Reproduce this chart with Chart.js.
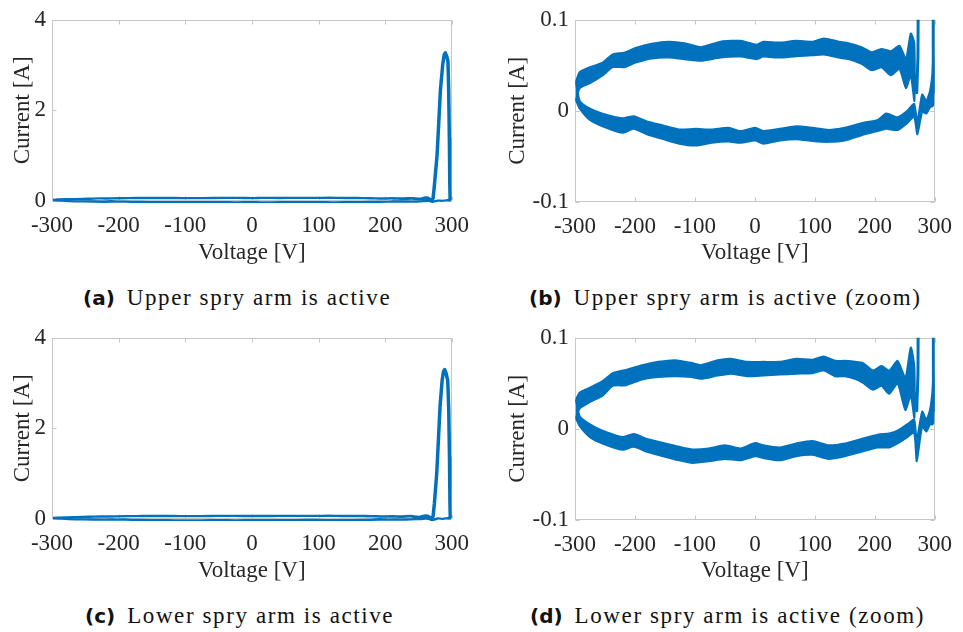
<!DOCTYPE html>
<html>
<head>
<meta charset="utf-8">
<script src="https://cdn.jsdelivr.net/npm/chart.js@4.4.1/dist/chart.umd.min.js"></script>
<style>
  body { margin: 0; background: #fff; }
  #wrap { position: relative; width: 963px; height: 632px; overflow: hidden; }
  canvas { position: absolute; }
  .cap { position: absolute; font-family: "Liberation Serif", serif; font-size: 23px; line-height: 23px;
         letter-spacing: 1.6px; color: #111; white-space: nowrap; }
  .cap b { font-family: "DejaVu Sans", sans-serif; font-size: 20px; letter-spacing: 0; margin-right: 12px; }
</style>
</head>
<body>
<div id="wrap">
  <canvas id="cA" width="480" height="275" style="left:0;top:0"></canvas>
  <canvas id="cB" width="468" height="275" style="left:495px;top:0"></canvas>
  <canvas id="cC" width="480" height="275" style="left:0;top:318px"></canvas>
  <canvas id="cD" width="468" height="275" style="left:495px;top:318px"></canvas>
  <div class="cap" style="left:83px;top:286px"><b>(a)</b>Upper spry arm is active</div>
  <div class="cap" style="left:529px;top:286px"><b>(b)</b>Upper spry arm is active (zoom)</div>
  <div class="cap" style="left:85px;top:604px"><b>(c)</b>Lower spry arm is active</div>
  <div class="cap" style="left:530px;top:604px"><b>(d)</b>Lower spry arm is active (zoom)</div>
</div>
<script>
const BLUE = "#0072BD";

// axis ticks
const xTicks = [-300, -200, -100, 0, 100, 200, 300];
const yTicksFull = [0, 2, 4];
const yTicksZoom = [-0.1, 0, 0.1];

// upper spray arm: rising-voltage branch (band top / bottom over all cycles)
const upFwdV  = [-298.5, -292, -275, -254, -237, -218, -199, -172, -144, -117, -90, -57, -24, 3, 14, 41, 69, 96, 115, 140, 156, 178, 195, 211, 227, 241, 252, 260, 266];
const upFwdHi = [0.032, 0.0427, 0.048, 0.053, 0.062, 0.064, 0.069, 0.0737, 0.076, 0.0743, 0.070, 0.076, 0.077, 0.0726, 0.076, 0.075, 0.077, 0.076, 0.0796, 0.076, 0.0743, 0.070, 0.0645, 0.068, 0.0656, 0.0716, 0.057, 0.085, 0.074];
const upFwdLo = [0.012, 0.025, 0.0305, 0.039, 0.048, 0.048, 0.053, 0.0575, 0.0585, 0.0568, 0.055, 0.0585, 0.0596, 0.0568, 0.0596, 0.0585, 0.060, 0.061, 0.062, 0.0585, 0.0568, 0.0516, 0.0445, 0.048, 0.039, 0.0463, 0.025, 0.039, 0.011];
// upper spray arm: falling-voltage branch
const upRetV  = [-298.5, -292, -275, -254, -221, -202, -180, -153, -126, -99, -72, -44, -24, 0.5, 14, 41.5, 69, 96, 123, 150, 178, 205, 219, 238, 254, 265.6, 271, 279, 286, 292, 296, 297.6];
const upRetHi = [0.032, 0.011, 0.0024, -0.003, -0.008, -0.006, -0.0116, -0.016, -0.0204, -0.0197, -0.0204, -0.0186, -0.022, -0.0186, -0.022, -0.0197, -0.0168, -0.0186, -0.021, -0.0186, -0.0134, -0.0099, -0.0028, -0.007, 0.000, 0.0077, -0.012, 0.018, 0.011, 0.0217, 0.040, 0.060];
const upRetLo = [0.012, 0.0024, -0.010, -0.017, -0.024, -0.0197, -0.0257, -0.031, -0.036, -0.038, -0.035, -0.0337, -0.035, -0.0326, -0.036, -0.0326, -0.031, -0.033, -0.034, -0.0326, -0.0267, -0.022, -0.0197, -0.021, -0.0134, -0.0063, -0.0257, -0.001, -0.003, 0.004, 0.005, 0.008];
// upper spray arm: heater pulse near the positive peak
const upPeakV = [266, 270, 272, 274, 278, 280.5, 283, 286.5, 288.5, 290.3, 292.3, 294.3, 295.4, 296.4, 297.1, 297.6];
const upPeakI = [0.04, 0.02, 0.06, 0.35, 1.02, 1.73, 2.45, 3.02, 3.22, 3.27, 3.2, 3.09, 2.45, 1.38, 0.35, 0.02];

// lower spray arm
const loFwdV  = [-298.5, -292, -275, -254, -237, -215, -188, -161, -133, -106, -90, -62, -40, -13, 14, 41.5, 69, 96, 115, 134, 150, 167, 180, 197, 211, 224, 238, 251, 260, 266];
const loFwdHi = [0.032, 0.040, 0.0454, 0.0525, 0.0612, 0.0648, 0.070, 0.0736, 0.0754, 0.0725, 0.070, 0.0754, 0.077, 0.0736, 0.0736, 0.0736, 0.077, 0.076, 0.0796, 0.0747, 0.0747, 0.0736, 0.0725, 0.064, 0.069, 0.064, 0.0747, 0.056, 0.0894, 0.068];
const loFwdLo = [0.012, 0.0226, 0.0296, 0.0366, 0.0472, 0.048, 0.0543, 0.057, 0.0578, 0.057, 0.055, 0.0585, 0.0606, 0.0578, 0.0585, 0.0596, 0.0606, 0.0612, 0.064, 0.0578, 0.0578, 0.055, 0.0507, 0.043, 0.0472, 0.0384, 0.050, 0.0208, 0.0366, 0.012];
const loRetV  = [-298.5, -292, -275, -254, -221, -202, -180, -153, -126, -104, -77, -50, -24, 0.5, 14, 41.5, 69, 96, 123, 150, 178, 205, 224, 238, 254, 265.6, 270, 279, 286, 292, 296, 297.8];
const loRetHi = [0.032, 0.0137, 0.005, -0.002, -0.009, -0.0056, -0.011, -0.0155, -0.0197, -0.0225, -0.0214, -0.018, -0.0214, -0.0155, -0.018, -0.0204, -0.016, -0.0133, -0.018, -0.016, -0.011, -0.0063, -0.005, -0.002, 0.005, 0.010, -0.012, 0.019, 0.010, 0.0208, 0.040, 0.060];
const loRetLo = [0.012, 0.003, -0.009, -0.016, -0.023, -0.0197, -0.025, -0.030, -0.0345, -0.0373, -0.0355, -0.033, -0.0345, -0.030, -0.032, -0.0345, -0.030, -0.0285, -0.033, -0.030, -0.025, -0.0204, -0.0204, -0.016, -0.009, -0.004, -0.0355, 0.003, -0.003, 0.005, 0.005, 0.008];
const loPeakV = [266, 270, 272, 274, 277.5, 280, 282.5, 285.5, 287.5, 289.3, 291.5, 294, 295.5, 296.6, 297.3, 297.8];
const loPeakI = [0.04, 0.02, 0.06, 0.35, 1.02, 1.75, 2.5, 3.05, 3.25, 3.3, 3.22, 3.05, 2.4, 1.35, 0.35, 0.02];

// closed outline: top edge left to right, bottom edge back
function band(v, hi, lo) {
  const top = v.map((x, i) => ({ x, y: hi[i] }));
  const bot = v.map((x, i) => ({ x, y: lo[i] })).reverse();
  return top.concat(bot);
}

// matlab-like box with inward ticks
const boxPlugin = {
  id: "box",
  beforeDatasetsDraw(chart) {
    const { ctx, chartArea: a, scales } = chart;
    const L = Math.round(a.left) + 0.5, R = Math.round(a.right) - 0.5;
    const T = Math.round(a.top) + 0.5, B = Math.round(a.bottom) - 0.5;
    ctx.save();
    ctx.strokeStyle = "#c6c6c6";
    ctx.lineWidth = 1;
    ctx.strokeRect(L, T, R - L, B - T);
    ctx.beginPath();
    scales.x.ticks.forEach(t => {
      const p = Math.round(scales.x.getPixelForValue(t.value)) + 0.5;
      ctx.moveTo(p, B); ctx.lineTo(p, B - 4);
      ctx.moveTo(p, T); ctx.lineTo(p, T + 4);
    });
    scales.y.ticks.forEach(t => {
      const p = Math.round(scales.y.getPixelForValue(t.value)) + 0.5;
      ctx.moveTo(L, p); ctx.lineTo(L + 4, p);
      ctx.moveTo(R, p); ctx.lineTo(R - 4, p);
    });
    ctx.stroke();
    ctx.restore();
  }
};

const serif = { family: "'Liberation Serif', serif", size: 23 };
const ink = "#262626";

function makeChart(id, run, zoom) {
  const yW = zoom ? 80 : 52;
  const pad = zoom ? { top: 12, right: 22, left: 0, bottom: 0 } : { top: 14, right: 27, left: 0, bottom: 0 };
  const xH = zoom ? 73 : 74;
  const clip = zoom ? 0 : { left: 0, top: 0, right: 0, bottom: 2 };

  const datasets = [
    { data: band(run.fwdV, run.fwdHi, run.fwdLo) },
    { data: band(run.retV, run.retHi, run.retLo) }
  ].map(d => Object.assign(d, {
    showLine: true, fill: "shape", backgroundColor: BLUE, borderColor: BLUE,
    borderWidth: zoom ? 2 : 1.6, tension: 0.2, pointRadius: 0, clip
  }));
  datasets.push({
    data: run.peakV.map((x, i) => ({ x, y: run.peakI[i] })),
    showLine: true, fill: false, borderColor: BLUE, borderWidth: zoom ? 3 : 3.5,
    borderJoinStyle: "round", pointRadius: 0, clip
  });

  const yTicks = zoom ? yTicksZoom : yTicksFull;
  return new Chart(document.getElementById(id), {
    type: "scatter",
    data: { datasets },
    plugins: [boxPlugin],
    options: {
      responsive: false,
      animation: false,
      devicePixelRatio: 1,
      layout: { padding: pad },
      plugins: { legend: { display: false }, tooltip: { enabled: false } },
      scales: {
        x: {
          type: "linear", min: -300, max: 300,
          afterBuildTicks: s => { s.ticks = xTicks.map(v => ({ value: v })); },
          afterFit: s => { s.height = xH; },
          grid: { display: false, drawTicks: false },
          border: { display: false },
          ticks: { padding: 11, color: ink, font: serif, maxRotation: 0, minRotation: 0, autoSkip: false, callback: v => String(v) },
          title: { display: true, text: "Voltage [V]", color: ink, font: serif, padding: { top: 0, bottom: 8 } }
        },
        y: {
          type: "linear", min: yTicks[0], max: yTicks[yTicks.length - 1],
          afterBuildTicks: s => { s.ticks = yTicks.map(v => ({ value: v })); },
          afterFit: s => { s.width = yW; },
          grid: { display: false, drawTicks: false },
          border: { display: false },
          ticks: { padding: 6, color: ink, font: serif, autoSkip: false, callback: v => String(v) },
          title: { display: true, text: "Current [A]", color: ink, font: serif, padding: { top: 9, bottom: 0 } }
        }
      }
    }
  });
}

const upperArm = { fwdV: upFwdV, fwdHi: upFwdHi, fwdLo: upFwdLo, retV: upRetV, retHi: upRetHi, retLo: upRetLo, peakV: upPeakV, peakI: upPeakI };
const lowerArm = { fwdV: loFwdV, fwdHi: loFwdHi, fwdLo: loFwdLo, retV: loRetV, retHi: loRetHi, retLo: loRetLo, peakV: loPeakV, peakI: loPeakI };

makeChart("cA", upperArm, false);
makeChart("cB", upperArm, true);
makeChart("cC", lowerArm, false);
makeChart("cD", lowerArm, true);
</script>
</body>
</html>
